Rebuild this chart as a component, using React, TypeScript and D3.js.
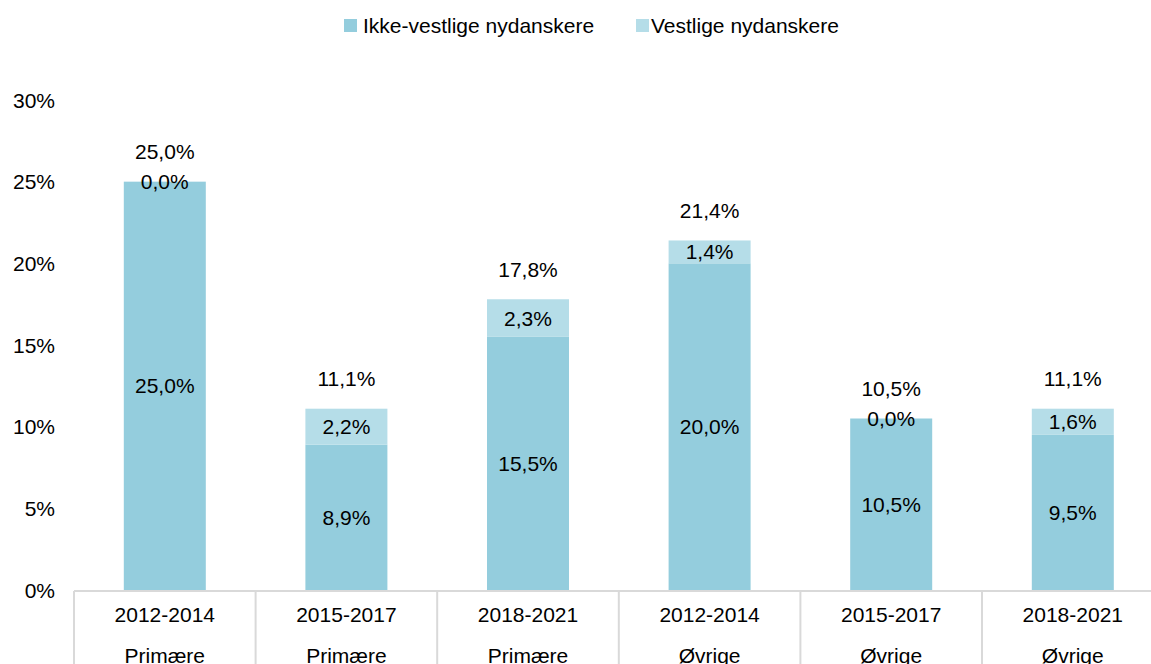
import React from "react";
import * as d3 from "d3";

const periods = ["2012-2014", "2015-2017", "2018-2021", "2012-2014", "2015-2017", "2018-2021"];
const groups = ["Primære", "Primære", "Primære", "Øvrige", "Øvrige", "Øvrige"];
const ikkeVestlige = [25.0, 8.9, 15.5, 20.0, 10.5, 9.5];
const vestlige = [0.0, 2.2, 2.3, 1.4, 0.0, 1.6];
const totals = [25.0, 11.1, 17.8, 21.4, 10.5, 11.1];
const yTicks = [0, 5, 10, 15, 20, 25, 30];
const seriesNames = ["Ikke-vestlige nydanskere", "Vestlige nydanskere"];

const W = 1151;
const H = 664;
const colors = ["#94CDDD", "#B5DDE8"];
const font = "'Liberation Sans', Arial, sans-serif";

const fmt = (v: number) => v.toFixed(1).replace(".", ",") + "%";

export default function App() {
  const left = 74;
  const bandW = 181.6;
  const x = d3
    .scaleBand<number>()
    .domain(d3.range(periods.length))
    .range([left, left + bandW * periods.length])
    .paddingInner(0)
    .paddingOuter(0);
  const y = d3.scaleLinear().domain([0, 30]).range([590, 100]);
  const barW = 82;
  const fs = 21;

  return (
    <svg
      width={W}
      height={H}
      style={{ position: "absolute", left: 0, top: 0, background: "#fff" }}
      fontFamily={font}
    >
      {/* legend */}
      <g fontSize={fs} fill="#000">
        <rect x={344} y={19} width={13} height={13} fill={colors[0]} />
        <text x={363} y={25} dominantBaseline="central">{seriesNames[0]}</text>
        <rect x={636} y={19} width={13} height={13} fill={colors[1]} />
        <text x={651} y={25} dominantBaseline="central">{seriesNames[1]}</text>
      </g>
      {/* y ticks */}
      <g fontSize={fs} fill="#000">
        {yTicks.map((t) => (
          <text key={t} x={55} y={y(t)} textAnchor="end" dominantBaseline="central">
            {t}%
          </text>
        ))}
      </g>
      {/* bars */}
      {periods.map((_, i) => {
        const cx = (x(i) as number) + bandW / 2;
        const d = ikkeVestlige[i];
        const v = vestlige[i];
        return (
          <g key={i}>
            <rect x={cx - barW / 2} y={y(d)} width={barW} height={y(0) - y(d)} fill={colors[0]} />
            <rect x={cx - barW / 2} y={y(d + v)} width={barW} height={y(d) - y(d + v)} fill={colors[1]} />
            <text x={cx} y={(y(0) + y(d)) / 2} textAnchor="middle" dominantBaseline="central" fontSize={fs}>
              {fmt(d)}
            </text>
            <text x={cx} y={(y(d) + y(d + v)) / 2} textAnchor="middle" dominantBaseline="central" fontSize={fs}>
              {fmt(v)}
            </text>
            <text x={cx} y={y(totals[i]) - 30} textAnchor="middle" dominantBaseline="central" fontSize={fs}>
              {fmt(totals[i])}
            </text>
          </g>
        );
      })}
      {/* x axis */}
      <line x1={left} x2={W} y1={591} y2={591} stroke="#D9D9D9" strokeWidth={2} />
      {d3.range(periods.length + 1).map((i) => (
        <line
          key={i}
          x1={left + bandW * i}
          x2={left + bandW * i}
          y1={591}
          y2={H}
          stroke="#D9D9D9"
          strokeWidth={2}
        />
      ))}
      <g fontSize={fs} fill="#000">
        {periods.map((p, i) => {
          const cx = (x(i) as number) + bandW / 2;
          return (
            <g key={i}>
              <text x={cx} y={614} textAnchor="middle" dominantBaseline="central">{p}</text>
              <text x={cx} y={655} textAnchor="middle" dominantBaseline="central">{groups[i]}</text>
            </g>
          );
        })}
      </g>
    </svg>
  );
}
